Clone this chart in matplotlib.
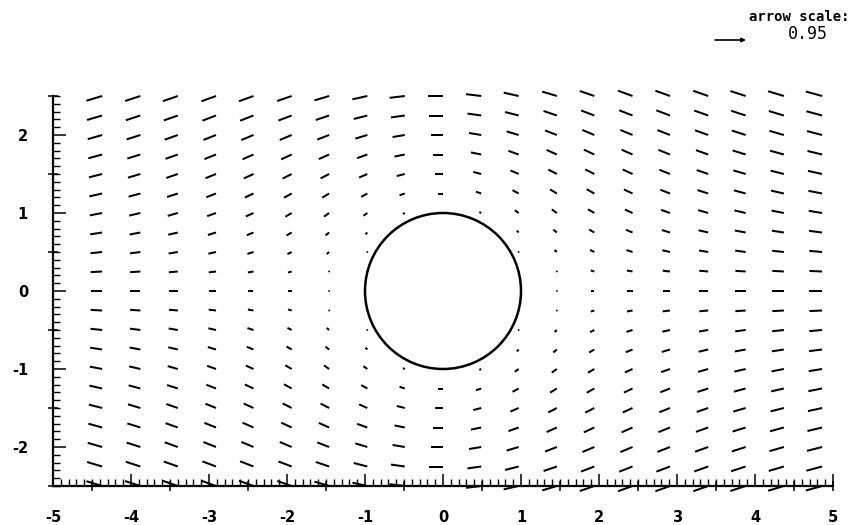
import numpy as np
import matplotlib
matplotlib.use("Agg")
import matplotlib.pyplot as plt
from matplotlib.patches import Circle
from matplotlib.ticker import MultipleLocator, FixedLocator, FixedFormatter

# ---- data -----------------------------------------------------------
# grid of sample points
x_cols = [-4.37, -3.88, -3.40, -2.91, -2.43, -1.94, -1.46, -0.97, -0.49, 0.0,
          0.49, 0.97, 1.46, 1.94, 2.43, 2.91, 3.40, 3.88, 4.37, 4.86]
y_rows = [-2.5, -2.25, -2.0, -1.75, -1.5, -1.25, -1.0, -0.75, -0.5, -0.25, 0.0,
          0.25, 0.5, 0.75, 1.0, 1.25, 1.5, 1.75, 2.0, 2.25, 2.5]
cyl_radius = 1.0          # cylinder radius
flow_strength = 1.0       # Lamb slow-flow constant

x_tick_values = [-5, -4, -3, -2, -1, 0, 1, 2, 3, 4, 5]
x_tick_labels = ["-5", "-4", "-3", "-2", "-1", "0", "1", "2", "3", "4", "5"]
y_tick_values = [-2, -1, 0, 1, 2]
y_tick_labels = ["-2", "-1", "0", "1", "2"]
half_x_ticks = [-4.5, -3.5, -2.5, -1.5, -0.5, 0.5, 1.5, 2.5, 3.5, 4.5, 5.0]
half_y_ticks = [-2.5, -1.5, -0.5, 0.5, 1.5, 2.5]
legend_title = "arrow scale:"
legend_value = "0.95"

# ---- field (Lamb's slow viscous flow past a cylinder) -----------------
X, Y = np.meshgrid(np.array(x_cols), np.array(y_rows))
R2 = X**2 + Y**2
a2 = cyl_radius**2
U = flow_strength * (0.5 * np.log(R2 / a2) - 0.5 + a2 / (2 * R2)
                     + Y**2 / R2 - a2 * Y**2 / R2**2)
V = -flow_strength * X * Y * (R2 - a2) / R2**2
outside = R2 > a2 * 1.0001
Xo, Yo, Uo, Vo = X[outside], Y[outside], U[outside], V[outside]

# ---- figure ------------------------------------------------------------
fig = plt.figure(figsize=(8.55, 5.25), dpi=100)
ax = fig.add_axes([53 / 855, 39 / 525, 780 / 855, 390 / 525])

q = ax.quiver(Xo, Yo, -Uo, -Vo, angles="xy", scale_units="xy", scale=6.8,
              pivot="tail", units="dots", width=2.0,
              headwidth=0, headlength=0, headaxislength=0,
              minlength=1.0, color="black")
q.set_clip_on(False)

ax.add_patch(Circle((0, 0), cyl_radius, fill=False, lw=1.8, color="black"))

ax.set_xlim(-5, 5)
ax.set_ylim(-2.5, 2.5)
ax.set_aspect("equal")

for s in ("top", "right"):
    ax.spines[s].set_visible(False)
for s in ("left", "bottom"):
    ax.spines[s].set_linewidth(1.6)

ax.xaxis.set_major_locator(FixedLocator(x_tick_values))
ax.xaxis.set_major_formatter(FixedFormatter(x_tick_labels))
ax.yaxis.set_major_locator(FixedLocator(y_tick_values))
ax.yaxis.set_major_formatter(FixedFormatter(y_tick_labels))
ax.xaxis.set_minor_locator(MultipleLocator(0.1))
ax.yaxis.set_minor_locator(MultipleLocator(0.1))

ax.tick_params(which="major", direction="in", length=9, width=1.1,
               labelsize=10.5, colors="black")
ax.tick_params(which="minor", direction="in", length=5, width=1.0)
ax.tick_params(axis="x", which="major", pad=17)
ax.tick_params(axis="y", which="major", pad=18)
for lab in ax.get_xticklabels() + ax.get_yticklabels():
    lab.set_fontweight("bold")

# half-unit ticks that cross the axis lines
secx = ax.secondary_xaxis("bottom")
secx.set_xticks(half_x_ticks)
secx.tick_params(direction="inout", length=7, width=1.1, labelbottom=False)
secx.spines["bottom"].set_visible(False)
secy = ax.secondary_yaxis("left")
secy.set_yticks(half_y_ticks)
secy.tick_params(direction="inout", length=7, width=1.1, labelleft=False)
secy.spines["left"].set_visible(False)

# arrow-scale legend
fig.text(849 / 855, 1 - 17 / 525, legend_title, ha="right", va="center",
         family="DejaVu Sans Mono", fontsize=10, fontweight="bold")
fig.text(828 / 855, 1 - 34 / 525, legend_value, ha="right", va="center",
         family="DejaVu Sans Mono", fontsize=12)
ax.annotate("", xy=(746 / 855, 1 - 40 / 525), xytext=(715 / 855, 1 - 40 / 525),
            xycoords="figure fraction", textcoords="figure fraction",
            arrowprops=dict(arrowstyle="-|>", lw=1.2, color="black",
                            mutation_scale=6, shrinkA=0, shrinkB=0))

fig.savefig("out.png", dpi=100)
